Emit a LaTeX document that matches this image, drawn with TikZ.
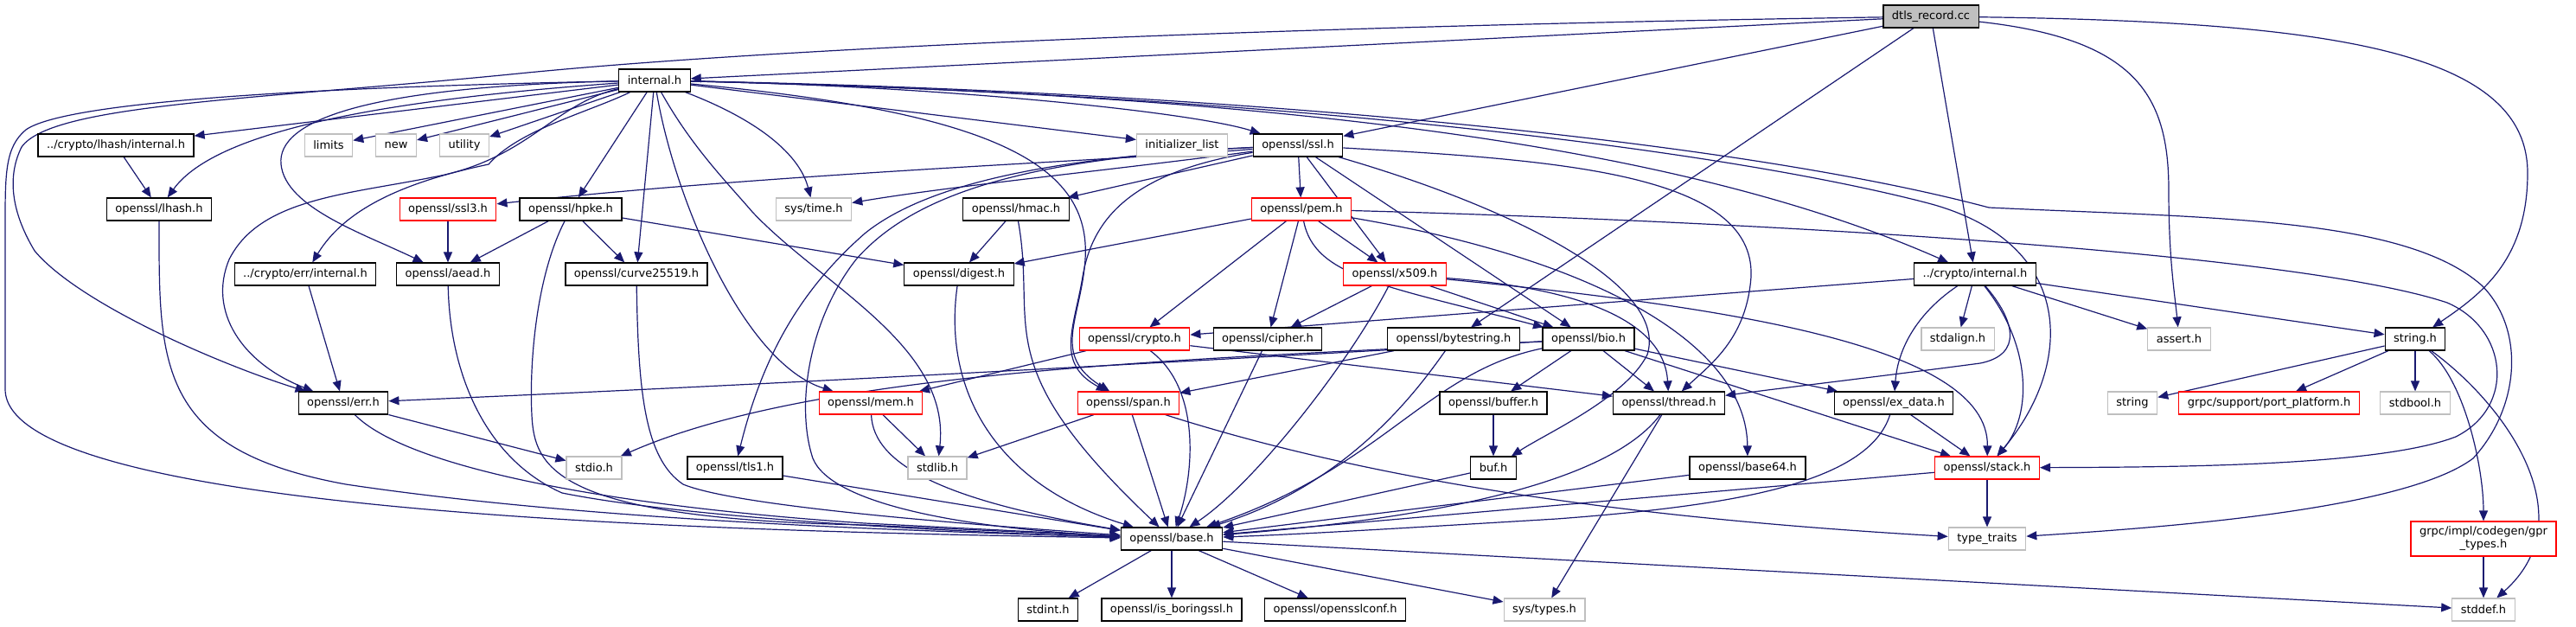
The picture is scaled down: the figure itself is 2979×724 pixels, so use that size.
\documentclass[tikz,border=0pt]{standalone}
\usepackage{fontspec}
\setmainfont{DejaVu Sans}
\usetikzlibrary{arrows.meta}
\usetikzlibrary{backgrounds}
\definecolor{edgeblue}{HTML}{191970}
\definecolor{grey75}{HTML}{BFBFBF}
\tikzset{
      hdr/.style={draw=black, fill=white, line width=0.6pt, inner xsep=5pt, inner ysep=0pt,
            minimum height=13pt, font=\fontsize{6.5}{7.5}\selectfont},
      syshdr/.style={hdr, draw=grey75},
      cuthdr/.style={hdr, draw=red},
      srcfile/.style={hdr, fill=grey75},
      incl/.style={draw=edgeblue, line width=0.6pt, -{Triangle[length=6pt,width=5pt]}},
}

\begin{document}
\begin{tikzpicture}[x=0.5pt, y=-0.5pt]
        \useasboundingbox (0,0) rectangle (2979,724);

        % Draw the files
        \node[srcfile] (dtls) at (2233,19) {dtls\_record.cc};
        \node[hdr] (intl) at (757,93) {internal.h};

        \node[hdr] (lhint) at (134,168) {../crypto/lhash/internal.h};
        \node[syshdr] (limits) at (380,168) {limits};
        \node[syshdr] (new) at (458,168) {new};
        \node[syshdr] (utility) at (537,168) {utility};
        \node[syshdr] (initlist) at (1367,168) {initializer\_list};
        \node[hdr] (ssl) at (1501,168) {openssl/ssl.h};

        \node[hdr] (lhash) at (184,242) {openssl/lhash.h};
        \node[cuthdr] (ssl3) at (518,242) {openssl/ssl3.h};
        \node[hdr] (hpke) at (660,242) {openssl/hpke.h};
        \node[syshdr] (systime) at (941,242) {sys/time.h};
        \node[hdr] (hmac) at (1175,242) {openssl/hmac.h};
        \node[cuthdr] (pem) at (1505,242) {openssl/pem.h};

        \node[hdr] (errint) at (353,317) {../crypto/err/internal.h};
        \node[hdr] (aead) at (518,317) {openssl/aead.h};
        \node[hdr] (curve) at (736,317) {openssl/curve25519.h};
        \node[hdr] (digest) at (1109,317) {openssl/digest.h};
        \node[cuthdr] (x509) at (1613,317) {openssl/x509.h};
        \node[hdr] (cryint) at (2284,317) {../crypto/internal.h};

        \node[cuthdr] (crypto) at (1312,392) {openssl/crypto.h};
        \node[hdr] (cipher) at (1466,392) {openssl/cipher.h};
        \node[hdr] (bytes) at (1681,392) {openssl/bytestring.h};
        \node[hdr] (bio) at (1837,392) {openssl/bio.h};
        \node[syshdr] (stdalign) at (2264,392) {stdalign.h};
        \node[syshdr] (assert) at (2520,392) {assert.h};
        \node[hdr] (strh) at (2793,392) {string.h};

        \node[hdr] (err) at (397,466) {openssl/err.h};
        \node[cuthdr] (mem) at (1007,466) {openssl/mem.h};
        \node[cuthdr] (span) at (1305,466) {openssl/span.h};
        \node[hdr] (buffer) at (1727,466) {openssl/buffer.h};
        \node[hdr] (thread) at (1930,466) {openssl/thread.h};
        \node[hdr] (exdata) at (2190,466) {openssl/ex\_data.h};
        \node[syshdr] (string) at (2466,466) {string};
        \node[cuthdr] (port) at (2624,466) {grpc/support/port\_platform.h};
        \node[syshdr] (stdbool) at (2793,466) {stdbool.h};

        \node[syshdr] (stdio) at (687,541) {stdio.h};
        \node[hdr] (tls1) at (850,541) {openssl/tls1.h};
        \node[syshdr] (stdlib) at (1084,541) {stdlib.h};
        \node[hdr] (buf) at (1727,541) {buf.h};
        \node[hdr] (base64) at (2021,541) {openssl/base64.h};
        \node[cuthdr] (stack) at (2298,541) {openssl/stack.h};

        \node[hdr] (base) at (1355,623) {openssl/base.h};
        \node[syshdr] (ttraits) at (2298,623) {type\_traits};
        \node[cuthdr, align=center, minimum height=20pt] (gpr) at (2872,623) {grpc/impl/codegen/gpr\\\_types.h};

        \node[hdr] (stdint) at (1212,705) {stdint.h};
        \node[hdr] (isboring) at (1355,705) {openssl/is\_boringssl.h};
        \node[hdr] (osslconf) at (1544,705) {openssl/opensslconf.h};
        \node[syshdr] (systypes) at (1786,705) {sys/types.h};
        \node[syshdr] (stddef) at (2872,705) {stddef.h};

        \begin{scope}[on background layer]
        % Draw the includes
        \draw[incl] (dtls) -- (intl);
        \draw[incl] (dtls) .. controls (1500,30) and (900,55) .. (600,85) .. controls (300,115) and (60,120) .. (25,170)
              .. controls (10,200) and (10,240) .. (40,290) .. controls (90,350) and (250,420) .. (err);
        \draw[incl] (dtls) -- (ssl);
        \draw[incl] (dtls) -- (bytes);
        \draw[incl] (dtls) -- (cryint);
        \draw[incl] (dtls) .. controls (2470,45) and (2508,110) .. (2508,220) .. controls (2508,300) and (2515,340) .. (assert);
        \draw[incl] (dtls) .. controls (2700,25) and (2923,60) .. (2923,200) .. controls (2923,300) and (2870,340) .. (strh);

        \draw[incl] (intl) .. controls (400,100) and (80,115) .. (30,150) .. controls (6,170) and (6,200) .. (6,260) -- (6,450)
              .. controls (6,600) and (900,615) .. (base);
        \draw[incl] (intl) -- (lhint);
        \draw[incl] (intl) .. controls (450,115) and (250,150) .. (lhash);
        \draw[incl] (intl) -- (limits);
        \draw[incl] (intl) -- (new);
        \draw[incl] (intl) -- (utility);
        \draw[incl] (intl) -- (initlist);
        \draw[incl] (intl) .. controls (1100,100) and (1380,130) .. (ssl);
        \draw[incl] (intl) .. controls (880,140) and (925,180) .. (systime);
        \draw[incl] (intl) -- (hpke);
        \draw[incl] (intl) -- (curve);
        \draw[incl] (intl) .. controls (420,100) and (320,140) .. (325,190) .. controls (330,240) and (420,270) .. (aead);
        \draw[incl] (intl) .. controls (680,130) and (600,150) .. (565,190) .. controls (470,210) and (400,240) .. (errint);
        \draw[incl] (intl) .. controls (640,120) and (610,185) .. (500,205) .. controls (400,225) and (300,230) .. (265,300)
              .. controls (240,360) and (280,420) .. (err);
        \draw[incl] (intl) .. controls (780,230) and (860,420) .. (mem);
        \draw[incl] (intl) .. controls (800,170) and (840,210) .. (870,245) .. controls (950,330) and (1100,400) .. (stdlib);
        \draw[incl] (intl) .. controls (1150,130) and (1262,190) .. (1255,300) .. controls (1250,370) and (1215,410) .. (span);
        \draw[incl] (intl) .. controls (1400,105) and (2000,160) .. (2300,240) .. controls (2550,252) and (2780,250) .. (2870,330)
              .. controls (2920,380) and (2915,470) .. (2860,530) .. controls (2780,590) and (2500,610) .. (ttraits);
        \draw[incl] (intl) .. controls (1500,110) and (2000,175) .. (2230,235) .. controls (2400,280) and (2400,420) .. (stack);
        \draw[incl] (intl) .. controls (1500,110) and (1950,170) .. (cryint);

        \draw[incl] (ssl) .. controls (1300,185) and (900,200) .. (ssl3);
        \draw[incl] (ssl) .. controls (1300,195) and (1100,215) .. (systime);
        \draw[incl] (ssl) -- (hmac);
        \draw[incl] (ssl) -- (pem);
        \draw[incl] (ssl) -- (x509);
        \draw[incl] (ssl) -- (bio);
        \draw[incl] (ssl) .. controls (1800,185) and (2030,200) .. (2025,320) .. controls (2020,390) and (1980,420) .. (thread);
        \draw[incl] (ssl) .. controls (1750,240) and (1930,330) .. (1905,410) .. controls (1880,460) and (1790,500) .. (buf);
        \draw[incl] (ssl) .. controls (1250,180) and (1080,205) .. (1000,270) .. controls (920,340) and (880,420) .. (tls1);
        \draw[incl] (ssl) .. controls (1200,182) and (1060,220) .. (990,300) .. controls (935,370) and (920,470) .. (940,530)
              .. controls (960,580) and (1100,610) .. (base);
        \draw[incl] (ssl) .. controls (1300,200) and (1262,260) .. (1252,320) .. controls (1242,380) and (1220,420) .. (span);

        \draw[incl] (pem) -- (digest);
        \draw[incl] (pem) -- (crypto);
        \draw[incl] (pem) -- (cipher);
        \draw[incl] (pem) -- (x509);
        \draw[incl] (pem) .. controls (1520,320) and (1600,330) .. (bio);
        \draw[incl] (pem) .. controls (1850,300) and (2020,400) .. (base64);
        \draw[incl] (pem) .. controls (2000,255) and (2650,290) .. (2830,350) .. controls (2900,380) and (2910,470) .. (2840,505)
              .. controls (2750,540) and (2500,540) .. (stack);

        \draw[incl] (x509) -- (cipher);
        \draw[incl] (x509) .. controls (1560,420) and (1450,560) .. (base);
        \draw[incl] (x509) -- (bio);
        \draw[incl] (x509) .. controls (1850,335) and (1925,380) .. (thread);
        \draw[incl] (x509) .. controls (2000,355) and (2300,400) .. (stack);

        \draw[incl] (hmac) -- (digest);
        \draw[incl] (hmac) .. controls (1200,380) and (1140,420) .. (base);
        \draw[incl] (digest) .. controls (1090,450) and (1150,560) .. (base);
        \draw[incl] (hpke) -- (aead);
        \draw[incl] (hpke) -- (curve);
        \draw[incl] (hpke) -- (digest);
        \draw[incl] (hpke) .. controls (620,320) and (612,420) .. (615,480) .. controls (618,540) and (640,600) .. (1000,607) -- (base);
        \draw[incl] (lhint) -- (lhash);
        \draw[incl] (lhash) .. controls (184,420) and (180,520) .. (400,560) .. controls (700,605) and (1100,615) .. (base);
        \draw[incl] (ssl3) -- (aead);
        \draw[incl] (errint) -- (err);
        \draw[incl] (aead) .. controls (520,430) and (560,530) .. (650,570) .. controls (800,600) and (1100,615) .. (base);
        \draw[incl] (curve) .. controls (738,450) and (745,530) .. (790,560) .. controls (850,585) and (1100,605) .. (base);
        \draw[incl] (err) .. controls (470,540) and (700,585) .. (1000,605) -- (base);
        \draw[incl] (err) -- (stdio);
        \draw[incl] (tls1) -- (base);
        \draw[incl] (mem) -- (stdlib);
        \draw[incl] (mem) .. controls (1010,540) and (1100,580) .. (base);
        \draw[incl] (crypto) -- (mem);
        \draw[incl] (crypto) .. controls (1390,450) and (1380,550) .. (base);
        \draw[incl] (crypto) -- (thread);
        \draw[incl] (span) -- (stdlib);
        \draw[incl] (span) -- (base);
        \draw[incl] (span) .. controls (1600,560) and (1900,600) .. (ttraits);
        \draw[incl] (cipher) -- (base);
        \draw[incl] (bytes) -- (span);
        \draw[incl] (bytes) .. controls (1640,450) and (1560,560) .. (base);

        \draw[incl] (bio) .. controls (1500,410) and (1000,440) .. (err);
        \draw[incl] (bio) .. controls (1400,415) and (950,425) .. (stdio);
        \draw[incl] (bio) -- (buffer);
        \draw[incl] (bio) -- (thread);
        \draw[incl] (bio) -- (exdata);
        \draw[incl] (bio) -- (stack);
        \draw[incl] (bio) .. controls (1650,430) and (1600,540) .. (base);
        \draw[incl] (buffer) -- (buf);
        \draw[incl] (buf) -- (base);
        \draw[incl] (thread) .. controls (1860,560) and (1650,600) .. (base);
        \draw[incl] (thread) -- (systypes);
        \draw[incl] (exdata) .. controls (2160,560) and (2000,585) .. (1800,600) .. controls (1600,612) and (1500,618) .. (base);
        \draw[incl] (exdata) -- (stack);
        \draw[incl] (base64) -- (base);
        \draw[incl] (stack) -- (base);
        \draw[incl] (stack) -- (ttraits);

        \draw[incl] (cryint) -- (crypto);
        \draw[incl] (cryint) .. controls (2220,360) and (2195,400) .. (exdata);
        \draw[incl] (cryint) -- (stdalign);
        \draw[incl] (cryint) .. controls (2330,370) and (2340,410) .. (2290,420) .. controls (2200,432) and (2050,450) .. (thread);
        \draw[incl] (cryint) .. controls (2350,400) and (2350,480) .. (stack);
        \draw[incl] (cryint) -- (assert);
        \draw[incl] (cryint) -- (strh);

        \draw[incl] (base) -- (stdint);
        \draw[incl] (base) -- (isboring);
        \draw[incl] (base) -- (osslconf);
        \draw[incl] (base) -- (systypes);
        \draw[incl] (base) -- (stddef);

        \draw[incl] (strh) -- (string);
        \draw[incl] (strh) -- (port);
        \draw[incl] (strh) -- (stdbool);
        \draw[incl] (strh) .. controls (2850,440) and (2872,540) .. (gpr);
        \draw[incl] (strh) .. controls (2900,470) and (2990,600) .. (stddef);
        \draw[incl] (gpr) -- (stddef);
        \end{scope}

\end{tikzpicture}
\end{document}
